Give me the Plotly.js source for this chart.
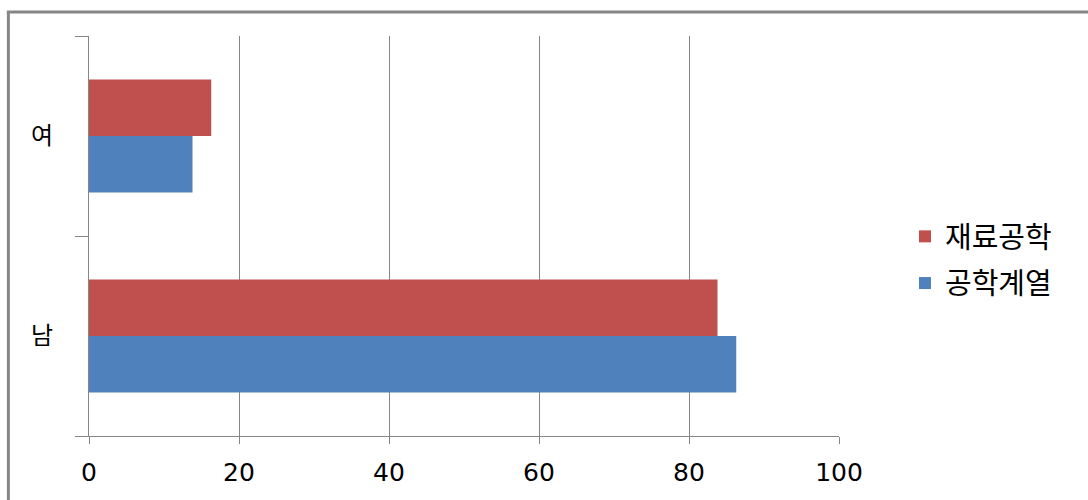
<!DOCTYPE html>
<html>
<head>
<meta charset="utf-8">
<script src="https://cdn.plot.ly/plotly-3.0.1.min.js"></script>
<style>html,body{margin:0;padding:0;background:#fff;}#chart{width:1088px;height:500px;}</style>
</head>
<body>
<div id="chart"></div>
<script>
const categories = ['남', '여'];
const seriesNames = ['공학계열', '재료공학'];
const valuesEngineering = [86.3, 13.8];   // 공학계열
const valuesMaterials = [83.8, 16.3];     // 재료공학
const xTicks = [0, 20, 40, 60, 80, 100];

const grey = '#868686';
const traces = [
  {type: 'bar', orientation: 'h', name: seriesNames[0], y: categories, x: valuesEngineering,
   marker: {color: '#4F81BD'}, legendgroup: 'b', legendrank: 2, hoverinfo: 'x+y'},
  {type: 'bar', orientation: 'h', name: seriesNames[1], y: categories, x: valuesMaterials,
   marker: {color: '#C0504D'}, legendgroup: 'a', legendrank: 1, hoverinfo: 'x+y'}
];

const layout = {
  width: 1088, height: 500,
  margin: {l: 89, r: 249, t: 36, b: 64},
  paper_bgcolor: '#fff', plot_bgcolor: '#fff',
  barmode: 'group', bargap: 0.435, bargroupgap: 0,
  font: {family: 'DejaVu Sans, sans-serif', color: '#000'},
  xaxis: {
    range: [0, 100], tickvals: xTicks, ticktext: xTicks.map(String),
    showgrid: true, gridcolor: grey, gridwidth: 1,
    showline: true, linecolor: grey, linewidth: 1,
    ticks: 'outside', ticklen: 7, tickcolor: grey, tickwidth: 1,
    ticklabelstandoff: 7,
    zeroline: false, fixedrange: true,
    tickfont: {family: 'DejaVu Sans, sans-serif', size: 25, color: '#000'}
  },
  yaxis: {
    type: 'category', categoryorder: 'array', categoryarray: categories,
    range: [-0.5, 1.5],
    showgrid: false, showline: true, linecolor: grey, linewidth: 1,
    ticks: 'outside', tickson: 'boundaries', ticklen: 13, tickcolor: grey, tickwidth: 1,
    ticklabelstandoff: 30, fixedrange: true,
    tickfont: {family: 'Noto Sans CJK KR, sans-serif', size: 24, color: '#000'}
  },
  showlegend: true,
  legend: {
    x: 1.088, xanchor: 'left', y: 0.44, yanchor: 'middle',
    traceorder: 'grouped', tracegroupgap: 6,
    font: {family: 'Noto Sans CJK KR, sans-serif', size: 29, color: '#000'},
    bgcolor: 'rgba(0,0,0,0)', borderwidth: 0
  },
  shapes: [
    {type: 'line', xref: 'paper', yref: 'paper', x0: -0.1075, x1: -0.1075, y0: 1.06, y1: -0.2,
     line: {color: grey, width: 3}},
    {type: 'line', xref: 'paper', yref: 'paper', x0: -0.1095, x1: 1.4, y0: 1.06, y1: 1.06,
     line: {color: grey, width: 3}}
  ]
};

Plotly.newPlot('chart', traces, layout, {displayModeBar: false, staticPlot: true});
</script>
</body>
</html>
